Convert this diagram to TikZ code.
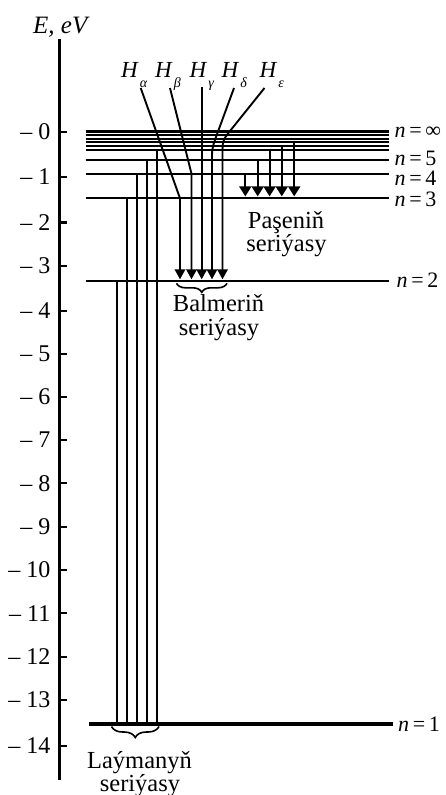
\documentclass[tikz,border=0pt]{standalone}
\usepackage{fontspec}
\setmainfont{Liberation Serif}
\usetikzlibrary{arrows.meta,decorations.pathreplacing}
\newcommand\TickFnt{\fontsize{24}{24}\selectfont}
\newcommand\LvlFnt{\fontsize{22}{22}\selectfont}
\newcommand\SerFnt{\fontsize{24.5}{24.5}\selectfont}
\newcommand\HFnt{\fontsize{23}{23}\selectfont}
\newcommand\HSubFnt{\fontsize{14}{14}\selectfont}
\newcommand\Hlab[1]{\HFnt\textit{H}\kern1pt\raisebox{-10pt}{\HSubFnt\textit{#1}}}
\def\yinf{131.5}
\def\yten{135.2}
\def\ynine{138.7}
\def\yeight{142.2}
\def\yseven{145.9}
\def\ysix{150.3}
\def\yfive{160.3}
\def\yfour{173.7}
\def\ythree{198.3}
\def\ytwo{280.8}
\def\yone{724}
\begin{document}
\begin{tikzpicture}[x=1pt,y=-1pt,
  axisline/.style={line width=3.8pt},
  tickline/.style={line width=2.2pt},
  ticklab/.style={anchor=east,inner sep=0pt,font=\TickFnt},
  lvl/.style={line width=2.1pt},
  lvlone/.style={line width=3.2pt},
  lvllab/.style={anchor=west,inner sep=0pt,font=\LvlFnt},
  trans/.style={line width=1.9pt},
  barr/.style={trans,-{Triangle[width=10.5pt,length=10pt]}},
  parr/.style={trans,-{Triangle[width=12pt,length=10pt]}},
  brc/.style={line width=1.6pt,decorate},
  serlab/.style={anchor=base,inner sep=0pt,font=\SerFnt},
  hlab/.style={anchor=base west,inner sep=0pt}
]
\useasboundingbox (0,0) rectangle (445,795);

% axis
\coordinate (axtop) at (59.5,39);
\coordinate (axbot) at (59.5,780);
\draw[axisline] (axtop) -- (axbot);
\node[anchor=base west,inner sep=0pt,font=\fontsize{25}{25}\selectfont] (elab) at (33,33.5) {\textit{E, eV}};

% ticks
\foreach \v/\y in {0/132,1/177,2/222.5,3/266,4/311,5/354,6/397,7/440,8/483.3,9/526.7,10/570,11/613.3,12/656.7,13/700,14/746}{
  \draw[tickline] (61,\y) -- (66.8,\y);
  \node[ticklab] (t\v) at (50.5,\y) {– \v};
}

% levels
\foreach \y in {\yinf,\yten,\ynine,\yeight,\yseven,\ysix,\yfive,\yfour,\ythree,\ytwo}{
  \draw[lvl] (85.5,\y) -- (389,\y);
}
\draw[lvlone] (89,\yone) -- (393,\yone);

% level labels
\node[lvllab] (linf) at (394.5,132.5) {\textit{n}\,=\,∞};
\node[lvllab] (l5) at (394.5,158) {\textit{n}\,=\,5};
\node[lvllab] (l4) at (394.5,178.5) {\textit{n}\,=\,4};
\node[lvllab] (l3) at (394.5,199) {\textit{n}\,=\,3};
\node[lvllab] (l2) at (396.5,280.5) {\textit{n}\,=\,2};
\node[lvllab] (l1) at (398,724) {\textit{n}\,=\,1};

% Lyman series
\draw[trans] (116.7,\ytwo) -- (116.7,\yone);
\draw[trans] (126.7,\ythree) -- (126.7,\yone);
\draw[trans] (136.7,\yfour) -- (136.7,\yone);
\draw[trans] (146.7,\yfive) -- (146.7,\yone);
\draw[trans] (156.7,\ysix) -- (156.7,\yone);
\draw[brc,decoration={brace,amplitude=11pt}] (159,726.5) -- (111.5,726.5);
\node[serlab] (lyA) at (139.5,768.5) {Laýmanyň};
\node[serlab] (lyB) at (140,791) {seriýasy};

% Balmer series
\node[hlab] (ha) at (121,77) {\Hlab{α}};
\node[hlab] (hb) at (155,77) {\Hlab{β}};
\node[hlab] (hg) at (189.5,77) {\Hlab{γ}};
\node[hlab] (hd) at (221.5,77) {\Hlab{δ}};
\node[hlab] (he) at (259.5,77) {\Hlab{ε}};
\draw[barr] (140.7,88) -- (180,\ythree) -- (180,279.3);
\draw[barr] (170,88) -- (191.5,\yfour) -- (191.5,279.3);
\draw[barr] (201.7,87) -- (201.7,279.3);
\draw[barr] (234,88) -- (216,137) .. controls (213.3,144.5) and (212,148) .. (212,156) -- (212,279.3);
\draw[barr] (264.5,88) -- (228,133.5) .. controls (224,138.5) and (222.5,142) .. (222.5,149) -- (222.5,279.3);
\draw[brc,decoration={brace,amplitude=9pt}] (227,283.3) -- (176.5,283.3);
\node[serlab] (baA) at (218.5,311.7) {Balmeriň};
\node[serlab] (baB) at (219,335) {seriýasy};

% Paschen series
\draw[parr] (245.3,\yfour) -- (245.3,196.4);
\draw[parr] (257.7,\yfive) -- (257.7,196.4);
\draw[parr] (269.6,\ysix) -- (269.6,196.4);
\draw[parr] (281.8,\yseven) -- (281.8,196.4);
\draw[parr] (294.2,\yeight) -- (294.2,196.4);
\node[serlab] (paA) at (286,228.3) {Paşeniň};
\node[serlab] (paB) at (286.5,251.7) {seriýasy};
\end{tikzpicture}
\end{document}
